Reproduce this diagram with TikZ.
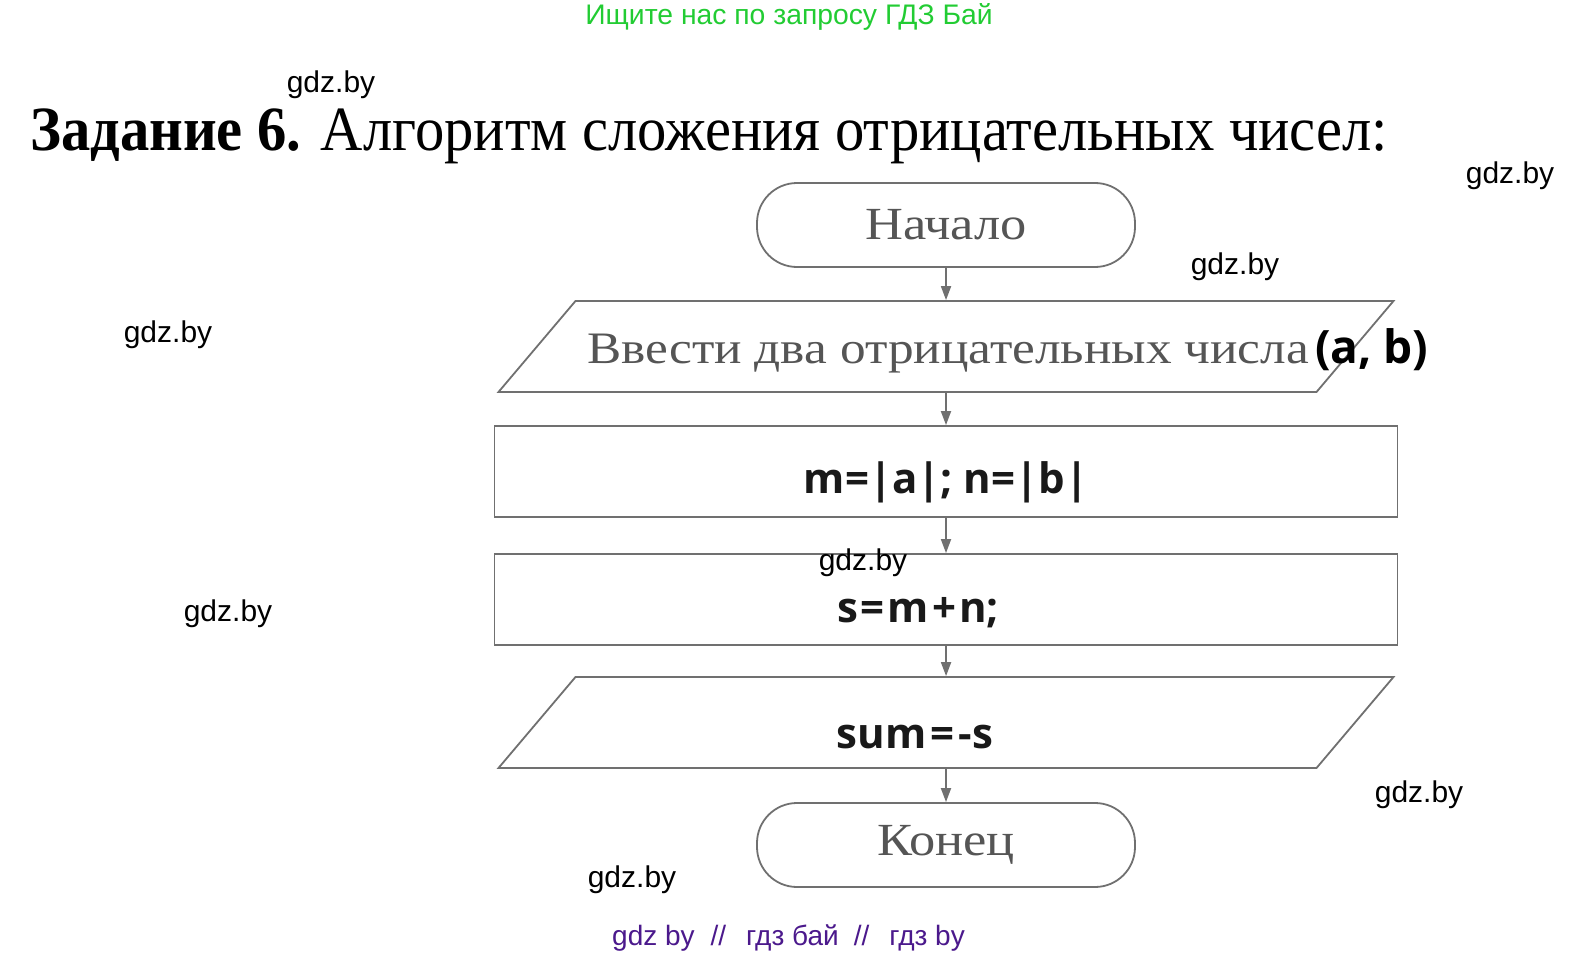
\documentclass[tikz,border=0pt]{standalone}
\usepackage{fontspec}
\setmainfont{Liberation Serif}
\newfontfamily\titlefont[FakeStretch=0.93]{Liberation Serif}
\newfontfamily\boxserif[FakeStretch=1.14]{Liberation Serif}
\newfontfamily\wmfont{Liberation Sans}
\newfontfamily\codefont{Open Sans}
\usetikzlibrary{arrows.meta}

\definecolor{boxgray}{RGB}{112,112,112}
\definecolor{textgray}{RGB}{85,85,85}
\definecolor{adgreen}{RGB}{34,204,51}
\definecolor{adpurple}{RGB}{75,25,140}

\tikzset{
  term/.style={draw=boxgray, line width=1.8pt, rectangle, rounded corners=40pt,
    minimum width=378pt, minimum height=84pt, inner sep=0pt,
    font=\boxserif\fontsize{46}{46}\selectfont, text=textgray},
  io/.style={draw=boxgray, line width=1.8pt, rectangle, xslant=0.846, transform shape,
    minimum width=818pt, minimum height=91pt, inner sep=0pt},
  proc/.style={draw=boxgray, line width=1.8pt, rectangle,
    minimum width=903pt, minimum height=91pt, inner sep=0pt},
  flow/.style={draw=boxgray, line width=1.8pt, -{Triangle[length=14pt,width=10pt]}},
  wm/.style={font=\wmfont\fontsize{30}{30}\selectfont, inner sep=0pt},
  codetext/.style={font=\codefont\bfseries\fontsize{42}{42}\selectfont, text=black!90, inner sep=0pt},
}

\begin{document}
\begin{tikzpicture}[x=1pt,y=-1pt]
	\useasboundingbox (0,0) rectangle (1580,955);
	% headline and title
	\node [anchor=base, text=adgreen, font=\wmfont\fontsize{28.3}{28.3}\selectfont, inner sep=0pt] (ad) at (789,25) {Ищите нас по запросу ГДЗ Бай};
	\node [anchor=base west, inner sep=0pt, font=\titlefont\fontsize{63}{63}\selectfont] (title) at (30,150) {\textbf{Задание 6.} Алгоритм сложения отрицательных чисел:};
	% flowchart
	\node [term] (start) at (946,225) {Начало};
	\node [io] (input) at (946,346.5) {};
	\node [proc] (absval) at (946,471.5) {};
	\node [proc] (sumbox) at (946,599.5) {};
	\node [io] (output) at (946,722.5) {};
	\node [term] (end) at (946,845) {Конец};
	\node [anchor=base west, inner sep=0pt, font=\boxserif\fontsize{45}{45}\selectfont, text=textgray] (inlbl) at (587,363) {Ввести два отрицательных числа\hspace{6pt}{\codefont\bfseries\fontsize{46}{46}\selectfont\color{black}(a, b)}};
	\node [codetext, anchor=base] (abslbl) at (946,493) {m=|a|; n=|b|};
	\node [codetext, anchor=base] (sumlbl) at (918,622) {s\kern3pt=\kern3pt m\kern3pt+\kern3pt n;};
	\node [codetext, anchor=base] (outlbl) at (915,748) {sum\kern4pt=\kern4pt-s};
	\draw [flow] (start) -- (input);
	\draw [flow] (input) -- (absval);
	\draw [flow] (absval) -- (sumbox);
	\draw [flow] (sumbox) -- (output);
	\draw [flow] (output) -- (end);
	% watermarks
	\foreach \px/\py [count=\i] in {331/85, 1510/176, 1235/267, 168/335, 863/563, 228/614, 1419/795, 632/880}
		\node [wm] (wm\i) at (\px,\py) {gdz.by};
	\node [anchor=base west, text=adpurple, font=\wmfont\fontsize{28}{28}\selectfont, inner sep=0pt] (foot) at (612,945) {gdz by\hspace{16pt}//\hspace{20pt}гдз бай\hspace{15pt}//\hspace{20pt}гдз by};
\end{tikzpicture}
\end{document}
